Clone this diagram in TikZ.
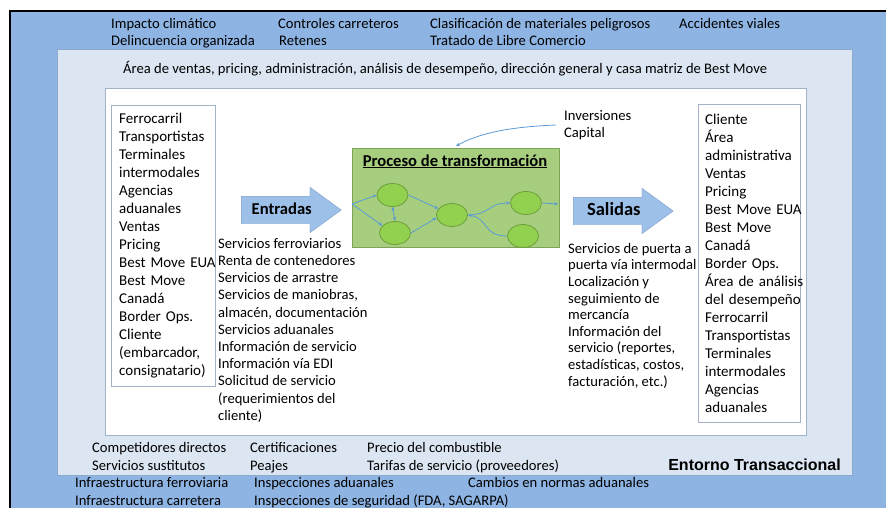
\documentclass[tikz,border=0pt]{standalone}
\usepackage{fontspec}
\setmainfont{Carlito}
\newfontfamily\arialfont{Liberation Sans}
\usepackage{tikz}
\usetikzlibrary{arrows.meta,shapes.geometric,shapes.arrows}
\definecolor{envblue}{HTML}{8EB4E3}
\definecolor{orgblue}{HTML}{DCE6F2}
\definecolor{orgline}{HTML}{8DA9CE}
\definecolor{boxline}{HTML}{A3B3C7}
\definecolor{procfill}{HTML}{A6CE7E}
\definecolor{procline}{HTML}{7FA25A}
\definecolor{stagefill}{HTML}{92D050}
\definecolor{stageline}{HTML}{6E9E3C}
\definecolor{flowblue}{HTML}{5B9BD5}
\definecolor{arrfill}{HTML}{9DC0E8}
\definecolor{arrline}{HTML}{7C9DC9}
\newcommand{\fsz}{\fontsize{14.6}{17.2}\selectfont}
\newcommand{\bsz}{\fontsize{15}{18}\selectfont}
\newcommand{\hsz}{\fontsize{16.6}{19}\selectfont\bfseries}
\tikzset{
  flowtip/.tip    = {Stealth[length=4pt,width=3.5pt]},
  fac/.style      = {anchor=base west,inner sep=0pt,font=\fsz},
  listbox/.style  = {draw=boxline,fill=white,align=left,anchor=north west,text width=88pt,
                     inner ysep=0pt,font=\bsz},
  listtxt/.style  = {align=left,anchor=north west,inner sep=0pt,font=\fsz},
  blockarr/.style = {single arrow,draw=arrline,fill=arrfill,single arrow head extend=9pt,
                     single arrow tip angle=72,text height=11pt,text depth=3pt,inner ysep=6.5pt,
                     inner xsep=2pt,minimum height=100pt,anchor=west},
  stage/.style    = {ellipse,draw=stageline,fill=stagefill,line width=0.8pt,
                     minimum width=31pt,minimum height=23pt,inner sep=0pt},
  flow/.style     = {-flowtip,flowblue,line width=0.8pt}
}

\begin{document}
\begin{tikzpicture}[x=1pt,y=-1pt]
  \useasboundingbox (0,0) rectangle (886,508);
  \fill[envblue] (10,11) rectangle (886,508);
  \draw[black,line width=2pt] (10,508) -- (10,11) -- (886,11);
  \draw[orgline,fill=orgblue] (57,49) rectangle (852,475);
  \draw[boxline,fill=white] (105,88) rectangle (806,435);

  \node[fac] (clima)  at (111,29) {Impacto climático};
  \node[fac] (delin)  at (111,46) {Delincuencia organizada};
  \node[fac] (contr)  at (278,29) {Controles carreteros};
  \node[fac] (reten)  at (279,46) {Retenes};
  \node[fac] (clasif) at (430,29) {Clasificación de materiales peligrosos};
  \node[fac] (tlc)    at (430,46) {Tratado de Libre Comercio};
  \node[fac] (accid)  at (679,29) {Accidentes viales};

  \node[fac] (org) at (123,74) {Área de ventas, pricing, administración, análisis de desempeño, dirección general y casa matriz de Best Move};

  \node[listbox,inner xsep=8pt,minimum height=281pt] (src) at (111,105)
    {Ferrocarril\\Transportistas\\Terminales\\intermodales\\Agencias\\aduanales\\Ventas\\Pricing\\
     \mbox{Best Move EUA}\\Best Move\\Canadá\\Border Ops.\\Cliente\\(embarcador,\\consignatario)};
  \node[listbox,inner xsep=7pt,minimum height=318pt] (dst) at (698,104)
    {Cliente\\Área\\administrativa\\Ventas\\Pricing\\\mbox{Best Move EUA}\\Best Move\\Canadá\\Border Ops.\\
     \mbox{Área de análisis}\\\mbox{del desempeño}\\Ferrocarril\\Transportistas\\Terminales\\intermodales\\Agencias\\aduanales};

  \node[blockarr,font=\hsz] (entr) at (241,210) {Entradas};
  \node[blockarr,font=\fontsize{18.5}{20}\selectfont\bfseries] (sal) at (573,211) {Salidas};

  \node[listtxt] (inl) at (218,238)
    {Servicios ferroviarios\\Renta de contenedores\\Servicios de arrastre\\Servicios de maniobras,\\
     almacén, documentación\\Servicios aduanales\\Información de servicio\\Información vía EDI\\
     Solicitud de servicio\\(requerimientos del\\cliente)};
  \node[listtxt,font=\fontsize{14.6}{16.6}\selectfont] (outl) at (568,243)
    {Servicios de puerta a\\puerta vía intermodal\\Localización y\\seguimiento de\\mercancía\\
     Información del\\servicio (reportes,\\estadísticas, costos,\\facturación, etc.)};

  \node[draw=procline,fill=procfill,minimum width=207pt,minimum height=99pt,inner sep=0pt] (proc) at (455.5,198) {};
  \node[font=\hsz,inner sep=0pt,anchor=base] (title) at (455,166) {\underline{Proceso de transformación}};
  \node[stage] (e1) at (392.5,195) {};
  \node[stage] (e2) at (395,233) {};
  \node[stage] (e3) at (452,215) {};
  \node[stage] (e4) at (526,203) {};
  \node[stage] (e5) at (523,236) {};
  \coordinate (pin)  at (352,204);
  \coordinate (pout) at (558,204);
  \draw[flow] (pin) -- (e1.west);
  \draw[flow] (pin) -- (e2.150);
  \draw[flow,flowtip-flowtip] (e1.south) -- (e2.north);
  \draw[flow] (e1.east) -- (e3.155);
  \draw[flow] (e2.east) -- (e3.190);
  \draw[flow] (e3.east) .. controls +(22,0) and +(-22,0) .. (e4.west);
  \draw[flow] (e5.west) .. controls +(-25,0) and +(22,4) .. (e3.east);
  \draw[flow] (e4.east) -- (pout);

  \node[listtxt] (inv) at (564,110) {Inversiones\\Capital};
  \coordinate (capin) at (456,146);
  \draw[flow] ([xshift=-8pt]inv.west) .. controls +(-50,2) and +(22,-12) .. (capin);

  \node[fac] (compet) at (92,452)  {Competidores directos};
  \node[fac] (sustit) at (92,470)  {Servicios sustitutos};
  \node[fac] (certif) at (250,452) {Certificaciones};
  \node[fac] (peajes) at (250,470) {Peajes};
  \node[fac] (comb)   at (367,452) {Precio del combustible};
  \node[fac] (tarif)  at (367,470) {Tarifas de servicio (proveedores)};
  \node[anchor=base east,inner sep=0pt,font=\arialfont\fontsize{16}{19}\selectfont\bfseries] (entorno) at (841,470) {Entorno Transaccional};

  \node[fac] (infraf) at (75,487)  {Infraestructura ferroviaria};
  \node[fac] (infrac) at (75,505)  {Infraestructura carretera};
  \node[fac] (inspa)  at (254,487) {Inspecciones aduanales};
  \node[fac] (insps)  at (254,505) {Inspecciones de seguridad (FDA, SAGARPA)};
  \node[fac] (normas) at (468,487) {Cambios en normas aduanales};
\end{tikzpicture}
\end{document}
